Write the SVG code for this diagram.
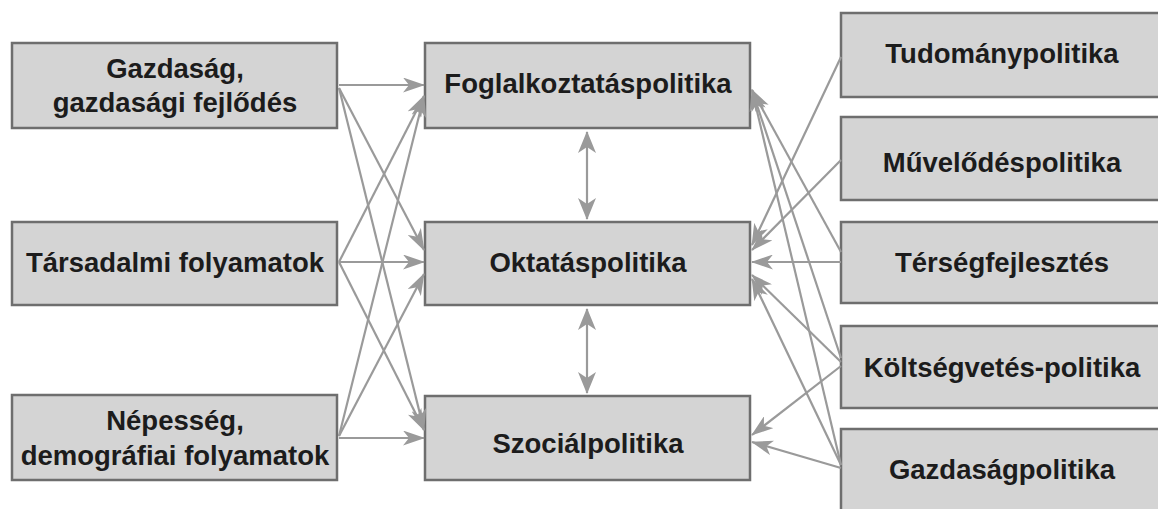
<svg xmlns="http://www.w3.org/2000/svg" width="1158" height="509" viewBox="0 0 1158 509">
  <style>
    .box { fill: #d4d4d4; stroke: #6e6e6e; stroke-width: 2.5; }
    .lbl { font-family: "Liberation Sans", Arial, sans-serif; font-weight: bold; font-size: 27.5px; fill: #1c1c1c; text-anchor: middle; }
    .conn line { stroke: #9a9a9a; stroke-width: 2.2; fill: none; marker-end: url(#arrow); }
    .conn line.both { marker-start: url(#arrow-wide); marker-end: url(#arrow-wide); }
  </style>
  <defs>
    <marker id="arrow" viewBox="0 0 22 15" refX="21" refY="7.5" markerWidth="22" markerHeight="15" markerUnits="userSpaceOnUse" orient="auto-start-reverse">
      <path d="M0,0 L22,7.5 L0,15 L6,7.5 z" fill="#9a9a9a"/>
    </marker>
    <marker id="arrow-wide" viewBox="0 0 22 18" refX="21" refY="9" markerWidth="22" markerHeight="18" markerUnits="userSpaceOnUse" orient="auto-start-reverse">
      <path d="M0,0 L22,9 L0,18 L6,9 z" fill="#9a9a9a"/>
    </marker>
  </defs>

  <rect width="1158" height="509" fill="#ffffff"/>

  <!-- left column: driving factors -->
  <g id="gazdasag">
    <rect class="box" x="12" y="43" width="325" height="85"/>
    <text class="lbl" x="175" y="78">Gazdaság,</text>
    <text class="lbl" x="175" y="112">gazdasági fejlődés</text>
  </g>
  <g id="tarsadalmi">
    <rect class="box" x="12" y="222" width="325" height="83"/>
    <text class="lbl" x="175" y="272">Társadalmi folyamatok</text>
  </g>
  <g id="nepesseg">
    <rect class="box" x="12" y="395" width="325" height="85"/>
    <text class="lbl" x="175" y="430">Népesség,</text>
    <text class="lbl" x="175" y="465">demográfiai folyamatok</text>
  </g>

  <!-- middle column: core policies -->
  <g id="foglalkoztatas">
    <rect class="box" x="425" y="43" width="325" height="85"/>
    <text class="lbl" x="588" y="93">Foglalkoztatáspolitika</text>
  </g>
  <g id="oktatas">
    <rect class="box" x="425" y="222" width="325" height="83"/>
    <text class="lbl" x="588" y="272">Oktatáspolitika</text>
  </g>
  <g id="szocial">
    <rect class="box" x="425" y="396" width="325" height="84"/>
    <text class="lbl" x="588" y="453">Szociálpolitika</text>
  </g>

  <!-- right column: related policies -->
  <g id="tudomany">
    <rect class="box" x="841" y="13" width="322" height="84"/>
    <text class="lbl" x="1002" y="63">Tudománypolitika</text>
  </g>
  <g id="muvelodes">
    <rect class="box" x="841" y="117" width="322" height="83"/>
    <text class="lbl" x="1002" y="172">Művelődéspolitika</text>
  </g>
  <g id="tersegfejlesztes">
    <rect class="box" x="841" y="222" width="322" height="81"/>
    <text class="lbl" x="1002" y="272">Térségfejlesztés</text>
  </g>
  <g id="koltsegvetes">
    <rect class="box" x="841" y="326" width="322" height="82"/>
    <text class="lbl" x="1002" y="377">Költségvetés-politika</text>
  </g>
  <g id="gazdasagpolitika">
    <rect class="box" x="841" y="429" width="322" height="86"/>
    <text class="lbl" x="1002" y="479">Gazdaságpolitika</text>
  </g>

  <g id="connectors" class="conn">
    <!-- left column into the core policies -->
    <line x1="339" y1="85" x2="424" y2="85"/>
    <line x1="339" y1="88" x2="424" y2="250"/>
    <line x1="339" y1="88" x2="424" y2="430"/>
    <line x1="339" y1="262" x2="424" y2="96"/>
    <line x1="339" y1="262" x2="424" y2="262"/>
    <line x1="339" y1="262" x2="424" y2="430"/>
    <line x1="339" y1="436" x2="424" y2="96"/>
    <line x1="339" y1="436" x2="424" y2="274"/>
    <line x1="339" y1="438" x2="424" y2="438"/>

    <!-- links between the core policies -->
    <line class="both" x1="587" y1="132" x2="587" y2="219"/>
    <line class="both" x1="587" y1="309" x2="587" y2="393"/>

    <!-- right column into the core policies -->
    <line x1="841" y1="57" x2="752" y2="245"/>
    <line x1="841" y1="160" x2="752" y2="250"/>
    <line x1="841" y1="262" x2="752" y2="262"/>
    <line x1="841" y1="252" x2="752" y2="90"/>
    <line x1="841" y1="358" x2="752" y2="90"/>
    <line x1="841" y1="362" x2="752" y2="275"/>
    <line x1="841" y1="366" x2="752" y2="435"/>
    <line x1="841" y1="465" x2="752" y2="90"/>
    <line x1="841" y1="465" x2="752" y2="279"/>
    <line x1="841" y1="468" x2="752" y2="442"/>
  </g>
</svg>
